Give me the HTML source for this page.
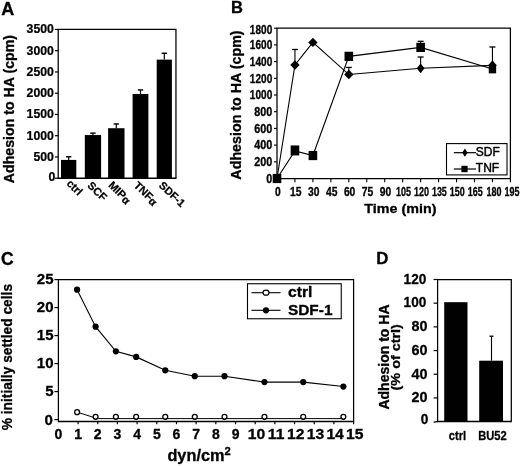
<!DOCTYPE html>
<html><head><meta charset="utf-8"><title>Figure</title>
<style>
html,body{margin:0;padding:0;background:#fff;}
body{width:520px;height:466px;overflow:hidden;font-family:"Liberation Sans",sans-serif;}
svg{display:block;opacity:0.999;will-change:transform;}
svg text{font-family:"Liberation Sans",sans-serif;fill:#000;}
</style></head><body>
<svg width="520" height="466" viewBox="0 0 520 466">
<rect width="520" height="466" fill="#fff"/>
<text transform="translate(1.20,14.70) scale(1.03,1)" font-size="17.5" font-weight="bold" text-anchor="start"  stroke="#000" stroke-width="0.3" stroke-linejoin="round">A</text>
<path d="M58.2,178.2 V29.35 H175.95 V178.2" fill="none" stroke="#000" stroke-width="1.25"/>
<line x1="57.70" y1="178.20" x2="176.45" y2="178.20" stroke="#000" stroke-width="1.5" />
<line x1="54.90" y1="178.20" x2="58.20" y2="178.20" stroke="#000" stroke-width="1.2" />
<text transform="translate(55.20,181.00) scale(0.98,1)" font-size="12.5" font-weight="bold" text-anchor="end"  stroke="#000" stroke-width="0.25" stroke-linejoin="round">0</text>
<line x1="54.90" y1="156.95" x2="58.20" y2="156.95" stroke="#000" stroke-width="1.2" />
<text transform="translate(53.80,160.75) scale(0.98,1)" font-size="12.5" font-weight="bold" text-anchor="end"  stroke="#000" stroke-width="0.25" stroke-linejoin="round">500</text>
<line x1="54.90" y1="135.70" x2="58.20" y2="135.70" stroke="#000" stroke-width="1.2" />
<text transform="translate(53.80,139.50) scale(0.98,1)" font-size="12.5" font-weight="bold" text-anchor="end"  stroke="#000" stroke-width="0.25" stroke-linejoin="round">1000</text>
<line x1="54.90" y1="114.45" x2="58.20" y2="114.45" stroke="#000" stroke-width="1.2" />
<text transform="translate(53.80,118.25) scale(0.98,1)" font-size="12.5" font-weight="bold" text-anchor="end"  stroke="#000" stroke-width="0.25" stroke-linejoin="round">1500</text>
<line x1="54.90" y1="93.20" x2="58.20" y2="93.20" stroke="#000" stroke-width="1.2" />
<text transform="translate(53.80,97.00) scale(0.98,1)" font-size="12.5" font-weight="bold" text-anchor="end"  stroke="#000" stroke-width="0.25" stroke-linejoin="round">2000</text>
<line x1="54.90" y1="71.95" x2="58.20" y2="71.95" stroke="#000" stroke-width="1.2" />
<text transform="translate(53.80,75.75) scale(0.98,1)" font-size="12.5" font-weight="bold" text-anchor="end"  stroke="#000" stroke-width="0.25" stroke-linejoin="round">2500</text>
<line x1="54.90" y1="50.70" x2="58.20" y2="50.70" stroke="#000" stroke-width="1.2" />
<text transform="translate(53.80,54.50) scale(0.98,1)" font-size="12.5" font-weight="bold" text-anchor="end"  stroke="#000" stroke-width="0.25" stroke-linejoin="round">3000</text>
<line x1="54.90" y1="29.45" x2="58.20" y2="29.45" stroke="#000" stroke-width="1.2" />
<text transform="translate(53.80,33.25) scale(0.98,1)" font-size="12.5" font-weight="bold" text-anchor="end"  stroke="#000" stroke-width="0.25" stroke-linejoin="round">3500</text>
<rect x="61.00" y="159.92" width="15.30" height="18.28" fill="#000"/>
<line x1="68.65" y1="159.92" x2="68.65" y2="156.74" stroke="#000" stroke-width="1.2" />
<line x1="65.95" y1="156.74" x2="71.35" y2="156.74" stroke="#000" stroke-width="1.4" />
<text transform="translate(65.90,184.30) rotate(44)" font-size="11" font-weight="bold" text-anchor="start"  stroke="#000" stroke-width="0.25" stroke-linejoin="round">ctrl</text>
<rect x="84.80" y="135.06" width="16.30" height="43.14" fill="#000"/>
<line x1="92.95" y1="135.06" x2="92.95" y2="133.15" stroke="#000" stroke-width="1.2" />
<line x1="90.25" y1="133.15" x2="95.65" y2="133.15" stroke="#000" stroke-width="1.4" />
<text transform="translate(86.70,186.30) rotate(44)" font-size="11" font-weight="bold" text-anchor="start"  stroke="#000" stroke-width="0.25" stroke-linejoin="round">SCF</text>
<rect x="108.10" y="128.22" width="16.40" height="49.98" fill="#000"/>
<line x1="116.30" y1="128.22" x2="116.30" y2="123.97" stroke="#000" stroke-width="1.2" />
<line x1="113.60" y1="123.97" x2="119.00" y2="123.97" stroke="#000" stroke-width="1.4" />
<text transform="translate(107.70,186.00) rotate(44)" font-size="11" font-weight="bold" text-anchor="start"  stroke="#000" stroke-width="0.25" stroke-linejoin="round">MIP<tspan font-size="11" dy="1.2">&#945;</tspan></text>
<rect x="132.60" y="93.96" width="15.80" height="84.23" fill="#000"/>
<line x1="140.50" y1="93.96" x2="140.50" y2="89.93" stroke="#000" stroke-width="1.2" />
<line x1="137.80" y1="89.93" x2="143.20" y2="89.93" stroke="#000" stroke-width="1.4" />
<text transform="translate(133.10,186.20) rotate(44)" font-size="11" font-weight="bold" text-anchor="start"  stroke="#000" stroke-width="0.25" stroke-linejoin="round">TNF<tspan font-size="11" dy="1.2">&#945;</tspan></text>
<rect x="156.70" y="59.62" width="15.20" height="118.58" fill="#000"/>
<line x1="164.30" y1="59.62" x2="164.30" y2="53.25" stroke="#000" stroke-width="1.2" />
<line x1="161.60" y1="53.25" x2="167.00" y2="53.25" stroke="#000" stroke-width="1.4" />
<text transform="translate(158.20,186.30) rotate(43)" font-size="10.8" font-weight="bold" text-anchor="start"  stroke="#000" stroke-width="0.25" stroke-linejoin="round">SDF-1</text>
<text transform="translate(13.90,109.10) rotate(-90) scale(0.978,1)" font-size="14.5" font-weight="bold" text-anchor="middle"  stroke="#000" stroke-width="0.3" stroke-linejoin="round">Adhesion to HA (cpm)</text>
<text transform="translate(231.00,13.30)" font-size="16.5" font-weight="bold" text-anchor="start"  stroke="#000" stroke-width="0.3" stroke-linejoin="round">B</text>
<path d="M277.0,178.5 V28.1 H510.4 V178.5 Z" fill="none" stroke="#000" stroke-width="1.25"/>
<line x1="274.00" y1="178.50" x2="277.00" y2="178.50" stroke="#000" stroke-width="1.1" />
<text transform="translate(272.30,182.70) scale(0.9,1)" font-size="12" font-weight="bold" text-anchor="end"  stroke="#000" stroke-width="0.3" stroke-linejoin="round">0</text>
<line x1="274.00" y1="161.80" x2="277.00" y2="161.80" stroke="#000" stroke-width="1.1" />
<text transform="translate(272.30,166.00) scale(0.9,1)" font-size="12" font-weight="bold" text-anchor="end"  stroke="#000" stroke-width="0.3" stroke-linejoin="round">200</text>
<line x1="274.00" y1="145.10" x2="277.00" y2="145.10" stroke="#000" stroke-width="1.1" />
<text transform="translate(272.30,149.30) scale(0.9,1)" font-size="12" font-weight="bold" text-anchor="end"  stroke="#000" stroke-width="0.3" stroke-linejoin="round">400</text>
<line x1="274.00" y1="128.40" x2="277.00" y2="128.40" stroke="#000" stroke-width="1.1" />
<text transform="translate(272.30,132.60) scale(0.9,1)" font-size="12" font-weight="bold" text-anchor="end"  stroke="#000" stroke-width="0.3" stroke-linejoin="round">600</text>
<line x1="274.00" y1="111.70" x2="277.00" y2="111.70" stroke="#000" stroke-width="1.1" />
<text transform="translate(272.30,115.90) scale(0.9,1)" font-size="12" font-weight="bold" text-anchor="end"  stroke="#000" stroke-width="0.3" stroke-linejoin="round">800</text>
<line x1="274.00" y1="95.00" x2="277.00" y2="95.00" stroke="#000" stroke-width="1.1" />
<text transform="translate(272.30,99.20) scale(0.84,1)" font-size="12" font-weight="bold" text-anchor="end"  stroke="#000" stroke-width="0.3" stroke-linejoin="round">1000</text>
<line x1="274.00" y1="78.30" x2="277.00" y2="78.30" stroke="#000" stroke-width="1.1" />
<text transform="translate(272.30,82.50) scale(0.84,1)" font-size="12" font-weight="bold" text-anchor="end"  stroke="#000" stroke-width="0.3" stroke-linejoin="round">1200</text>
<line x1="274.00" y1="61.60" x2="277.00" y2="61.60" stroke="#000" stroke-width="1.1" />
<text transform="translate(272.30,65.80) scale(0.84,1)" font-size="12" font-weight="bold" text-anchor="end"  stroke="#000" stroke-width="0.3" stroke-linejoin="round">1400</text>
<line x1="274.00" y1="44.90" x2="277.00" y2="44.90" stroke="#000" stroke-width="1.1" />
<text transform="translate(272.30,49.10) scale(0.84,1)" font-size="12" font-weight="bold" text-anchor="end"  stroke="#000" stroke-width="0.3" stroke-linejoin="round">1600</text>
<line x1="274.00" y1="28.20" x2="277.00" y2="28.20" stroke="#000" stroke-width="1.1" />
<text transform="translate(272.30,33.90) scale(0.84,1)" font-size="12" font-weight="bold" text-anchor="end"  stroke="#000" stroke-width="0.3" stroke-linejoin="round">1800</text>
<line x1="277.00" y1="178.50" x2="277.00" y2="182.30" stroke="#000" stroke-width="1.1" />
<text transform="translate(277.80,195.60) scale(0.86,1)" font-size="12" font-weight="bold" text-anchor="middle"  stroke="#000" stroke-width="0.3" stroke-linejoin="round">0</text>
<line x1="294.95" y1="178.50" x2="294.95" y2="182.30" stroke="#000" stroke-width="1.1" />
<text transform="translate(295.75,195.60) scale(0.86,1)" font-size="12" font-weight="bold" text-anchor="middle"  stroke="#000" stroke-width="0.3" stroke-linejoin="round">15</text>
<line x1="312.91" y1="178.50" x2="312.91" y2="182.30" stroke="#000" stroke-width="1.1" />
<text transform="translate(313.71,195.60) scale(0.86,1)" font-size="12" font-weight="bold" text-anchor="middle"  stroke="#000" stroke-width="0.3" stroke-linejoin="round">30</text>
<line x1="330.86" y1="178.50" x2="330.86" y2="182.30" stroke="#000" stroke-width="1.1" />
<text transform="translate(331.66,195.60) scale(0.86,1)" font-size="12" font-weight="bold" text-anchor="middle"  stroke="#000" stroke-width="0.3" stroke-linejoin="round">45</text>
<line x1="348.82" y1="178.50" x2="348.82" y2="182.30" stroke="#000" stroke-width="1.1" />
<text transform="translate(349.62,195.60) scale(0.86,1)" font-size="12" font-weight="bold" text-anchor="middle"  stroke="#000" stroke-width="0.3" stroke-linejoin="round">60</text>
<line x1="366.77" y1="178.50" x2="366.77" y2="182.30" stroke="#000" stroke-width="1.1" />
<text transform="translate(367.57,195.60) scale(0.86,1)" font-size="12" font-weight="bold" text-anchor="middle"  stroke="#000" stroke-width="0.3" stroke-linejoin="round">75</text>
<line x1="384.72" y1="178.50" x2="384.72" y2="182.30" stroke="#000" stroke-width="1.1" />
<text transform="translate(385.52,195.60) scale(0.86,1)" font-size="12" font-weight="bold" text-anchor="middle"  stroke="#000" stroke-width="0.3" stroke-linejoin="round">90</text>
<line x1="402.68" y1="178.50" x2="402.68" y2="182.30" stroke="#000" stroke-width="1.1" />
<text transform="translate(403.48,195.60) scale(0.75,1)" font-size="12" font-weight="bold" text-anchor="middle"  stroke="#000" stroke-width="0.3" stroke-linejoin="round">105</text>
<line x1="420.63" y1="178.50" x2="420.63" y2="182.30" stroke="#000" stroke-width="1.1" />
<text transform="translate(421.43,195.60) scale(0.75,1)" font-size="12" font-weight="bold" text-anchor="middle"  stroke="#000" stroke-width="0.3" stroke-linejoin="round">120</text>
<line x1="438.58" y1="178.50" x2="438.58" y2="182.30" stroke="#000" stroke-width="1.1" />
<text transform="translate(439.38,195.60) scale(0.75,1)" font-size="12" font-weight="bold" text-anchor="middle"  stroke="#000" stroke-width="0.3" stroke-linejoin="round">135</text>
<line x1="456.54" y1="178.50" x2="456.54" y2="182.30" stroke="#000" stroke-width="1.1" />
<text transform="translate(457.34,195.60) scale(0.75,1)" font-size="12" font-weight="bold" text-anchor="middle"  stroke="#000" stroke-width="0.3" stroke-linejoin="round">150</text>
<line x1="474.49" y1="178.50" x2="474.49" y2="182.30" stroke="#000" stroke-width="1.1" />
<text transform="translate(475.29,195.60) scale(0.75,1)" font-size="12" font-weight="bold" text-anchor="middle"  stroke="#000" stroke-width="0.3" stroke-linejoin="round">165</text>
<line x1="492.45" y1="178.50" x2="492.45" y2="182.30" stroke="#000" stroke-width="1.1" />
<text transform="translate(494.05,195.60) scale(0.75,1)" font-size="12" font-weight="bold" text-anchor="middle"  stroke="#000" stroke-width="0.3" stroke-linejoin="round">180</text>
<line x1="510.40" y1="178.50" x2="510.40" y2="182.30" stroke="#000" stroke-width="1.1" />
<text transform="translate(512.00,195.60) scale(0.75,1)" font-size="12" font-weight="bold" text-anchor="middle"  stroke="#000" stroke-width="0.3" stroke-linejoin="round">195</text>
<text transform="translate(400.40,212.60) scale(1.06,1)" font-size="13.5" font-weight="bold" text-anchor="middle"  stroke="#000" stroke-width="0.3" stroke-linejoin="round">Time (min)</text>
<text transform="translate(240.50,105.00) rotate(-90) scale(0.985,1)" font-size="14.5" font-weight="bold" text-anchor="middle"  stroke="#000" stroke-width="0.3" stroke-linejoin="round">Adhesion to HA (cpm)</text>
<polyline fill="none" stroke="#000" stroke-width="1.1" points="277.00,178.50 294.95,64.94 312.91,42.40 348.82,74.54 420.63,68.28 492.45,65.36"/>
<polyline fill="none" stroke="#000" stroke-width="1.1" points="277.00,178.50 294.95,150.94 312.91,155.54 348.82,56.34 420.63,47.41 492.45,68.95"/>
<line x1="294.95" y1="64.94" x2="294.95" y2="49.49" stroke="#000" stroke-width="1.1" />
<line x1="291.95" y1="49.49" x2="297.95" y2="49.49" stroke="#000" stroke-width="1.3" />
<line x1="348.82" y1="74.54" x2="348.82" y2="67.44" stroke="#000" stroke-width="1.1" />
<line x1="345.82" y1="67.44" x2="351.82" y2="67.44" stroke="#000" stroke-width="1.3" />
<line x1="420.63" y1="68.28" x2="420.63" y2="57.01" stroke="#000" stroke-width="1.1" />
<line x1="417.63" y1="57.01" x2="423.63" y2="57.01" stroke="#000" stroke-width="1.3" />
<line x1="492.45" y1="65.36" x2="492.45" y2="46.99" stroke="#000" stroke-width="1.1" />
<line x1="489.45" y1="46.99" x2="495.45" y2="46.99" stroke="#000" stroke-width="1.3" />
<line x1="420.63" y1="47.41" x2="420.63" y2="41.31" stroke="#000" stroke-width="1.1" />
<line x1="417.63" y1="41.31" x2="423.63" y2="41.31" stroke="#000" stroke-width="1.3" />
<path d="M294.95,60.24 L299.65,64.94 L294.95,69.64 L290.25,64.94 Z" fill="#000"/>
<path d="M312.91,37.70 L317.61,42.40 L312.91,47.10 L308.21,42.40 Z" fill="#000"/>
<path d="M348.82,69.84 L353.52,74.54 L348.82,79.24 L344.12,74.54 Z" fill="#000"/>
<path d="M420.63,63.38 L424.53,68.28 L420.63,73.18 L416.73,68.28 Z" fill="#000"/>
<path d="M492.45,60.36 L496.65,65.36 L492.45,70.36 L488.25,65.36 Z" fill="#000"/>
<rect x="272.70" y="173.90" width="8.6" height="9.2" fill="#000"/>
<rect x="290.65" y="145.44" width="8.6" height="10.0" fill="#000"/>
<rect x="308.61" y="150.94" width="8.6" height="9.2" fill="#000"/>
<rect x="344.52" y="51.74" width="8.6" height="9.2" fill="#000"/>
<rect x="416.33" y="42.80" width="8.6" height="9.2" fill="#000"/>
<rect x="488.75" y="64.55" width="7.4" height="8.8" fill="#000"/>
<rect x="446.5" y="143.6" width="60.5" height="31.3" fill="#fff" stroke="#000" stroke-width="1.1"/>
<line x1="453.80" y1="152.70" x2="476.00" y2="152.70" stroke="#000" stroke-width="1.2" />
<path d="M464.90,148.60 L467.60,152.70 L464.90,156.80 L462.20,152.70 Z" fill="#000"/>
<line x1="453.80" y1="169.00" x2="476.00" y2="169.00" stroke="#000" stroke-width="1.2" />
<rect x="461.40" y="165.80" width="6.2" height="6.4" fill="#000"/>
<text transform="translate(475.80,156.30)" font-size="12" font-weight="normal" text-anchor="start"  stroke="#000" stroke-width="0.45" stroke-linejoin="round">SDF</text>
<text transform="translate(475.80,171.90)" font-size="12" font-weight="normal" text-anchor="start"  stroke="#000" stroke-width="0.45" stroke-linejoin="round">TNF</text>
<text transform="translate(0.90,265.20)" font-size="17.5" font-weight="bold" text-anchor="start"  stroke="#000" stroke-width="0.3" stroke-linejoin="round">C</text>
<path d="M58.4,421.4 V279.5 H353.6 V421.4" fill="none" stroke="#000" stroke-width="1.25"/>
<line x1="57.90" y1="421.40" x2="354.10" y2="421.40" stroke="#000" stroke-width="1.5" />
<line x1="54.40" y1="419.60" x2="58.40" y2="419.60" stroke="#000" stroke-width="1.2" />
<text transform="translate(52.80,425.00)" font-size="15" font-weight="bold" text-anchor="end"  stroke="#000" stroke-width="0.3" stroke-linejoin="round">0</text>
<line x1="54.40" y1="391.60" x2="58.40" y2="391.60" stroke="#000" stroke-width="1.2" />
<text transform="translate(53.50,396.40)" font-size="15" font-weight="bold" text-anchor="end"  stroke="#000" stroke-width="0.3" stroke-linejoin="round">5</text>
<line x1="54.40" y1="363.60" x2="58.40" y2="363.60" stroke="#000" stroke-width="1.2" />
<text transform="translate(53.50,368.40)" font-size="15" font-weight="bold" text-anchor="end"  stroke="#000" stroke-width="0.3" stroke-linejoin="round">10</text>
<line x1="54.40" y1="335.60" x2="58.40" y2="335.60" stroke="#000" stroke-width="1.2" />
<text transform="translate(53.50,340.40)" font-size="15" font-weight="bold" text-anchor="end"  stroke="#000" stroke-width="0.3" stroke-linejoin="round">15</text>
<line x1="54.40" y1="307.60" x2="58.40" y2="307.60" stroke="#000" stroke-width="1.2" />
<text transform="translate(53.50,312.40)" font-size="15" font-weight="bold" text-anchor="end"  stroke="#000" stroke-width="0.3" stroke-linejoin="round">20</text>
<line x1="54.40" y1="279.60" x2="58.40" y2="279.60" stroke="#000" stroke-width="1.2" />
<text transform="translate(53.50,284.40)" font-size="15" font-weight="bold" text-anchor="end"  stroke="#000" stroke-width="0.3" stroke-linejoin="round">25</text>
<text transform="translate(58.40,438.70)" font-size="14" font-weight="bold" text-anchor="middle"  stroke="#000" stroke-width="0.3" stroke-linejoin="round">0</text>
<line x1="78.08" y1="421.40" x2="78.08" y2="424.20" stroke="#000" stroke-width="1.2" />
<text transform="translate(78.08,438.70)" font-size="14" font-weight="bold" text-anchor="middle"  stroke="#000" stroke-width="0.3" stroke-linejoin="round">1</text>
<line x1="97.76" y1="421.40" x2="97.76" y2="424.20" stroke="#000" stroke-width="1.2" />
<text transform="translate(97.76,438.70)" font-size="14" font-weight="bold" text-anchor="middle"  stroke="#000" stroke-width="0.3" stroke-linejoin="round">2</text>
<line x1="117.44" y1="421.40" x2="117.44" y2="424.20" stroke="#000" stroke-width="1.2" />
<text transform="translate(117.44,438.70)" font-size="14" font-weight="bold" text-anchor="middle"  stroke="#000" stroke-width="0.3" stroke-linejoin="round">3</text>
<line x1="137.12" y1="421.40" x2="137.12" y2="424.20" stroke="#000" stroke-width="1.2" />
<text transform="translate(137.12,438.70)" font-size="14" font-weight="bold" text-anchor="middle"  stroke="#000" stroke-width="0.3" stroke-linejoin="round">4</text>
<line x1="156.80" y1="421.40" x2="156.80" y2="424.20" stroke="#000" stroke-width="1.2" />
<text transform="translate(156.80,438.70)" font-size="14" font-weight="bold" text-anchor="middle"  stroke="#000" stroke-width="0.3" stroke-linejoin="round">5</text>
<line x1="176.48" y1="421.40" x2="176.48" y2="424.20" stroke="#000" stroke-width="1.2" />
<text transform="translate(176.48,438.70)" font-size="14" font-weight="bold" text-anchor="middle"  stroke="#000" stroke-width="0.3" stroke-linejoin="round">6</text>
<line x1="196.16" y1="421.40" x2="196.16" y2="424.20" stroke="#000" stroke-width="1.2" />
<text transform="translate(196.16,438.70)" font-size="14" font-weight="bold" text-anchor="middle"  stroke="#000" stroke-width="0.3" stroke-linejoin="round">7</text>
<line x1="215.84" y1="421.40" x2="215.84" y2="424.20" stroke="#000" stroke-width="1.2" />
<text transform="translate(215.84,438.70)" font-size="14" font-weight="bold" text-anchor="middle"  stroke="#000" stroke-width="0.3" stroke-linejoin="round">8</text>
<line x1="235.52" y1="421.40" x2="235.52" y2="424.20" stroke="#000" stroke-width="1.2" />
<text transform="translate(235.52,438.70)" font-size="14" font-weight="bold" text-anchor="middle"  stroke="#000" stroke-width="0.3" stroke-linejoin="round">9</text>
<line x1="255.20" y1="421.40" x2="255.20" y2="424.20" stroke="#000" stroke-width="1.2" />
<text transform="translate(256.40,438.70) scale(1.12,1)" font-size="14" font-weight="bold" text-anchor="middle"  stroke="#000" stroke-width="0.3" stroke-linejoin="round">10</text>
<line x1="274.88" y1="421.40" x2="274.88" y2="424.20" stroke="#000" stroke-width="1.2" />
<text transform="translate(276.08,438.70) scale(1.12,1)" font-size="14" font-weight="bold" text-anchor="middle"  stroke="#000" stroke-width="0.3" stroke-linejoin="round">11</text>
<line x1="294.56" y1="421.40" x2="294.56" y2="424.20" stroke="#000" stroke-width="1.2" />
<text transform="translate(295.76,438.70) scale(1.12,1)" font-size="14" font-weight="bold" text-anchor="middle"  stroke="#000" stroke-width="0.3" stroke-linejoin="round">12</text>
<line x1="314.24" y1="421.40" x2="314.24" y2="424.20" stroke="#000" stroke-width="1.2" />
<text transform="translate(315.44,438.70) scale(1.12,1)" font-size="14" font-weight="bold" text-anchor="middle"  stroke="#000" stroke-width="0.3" stroke-linejoin="round">13</text>
<line x1="333.92" y1="421.40" x2="333.92" y2="424.20" stroke="#000" stroke-width="1.2" />
<text transform="translate(335.12,438.70) scale(1.12,1)" font-size="14" font-weight="bold" text-anchor="middle"  stroke="#000" stroke-width="0.3" stroke-linejoin="round">14</text>
<line x1="353.60" y1="421.40" x2="353.60" y2="424.20" stroke="#000" stroke-width="1.2" />
<text transform="translate(354.80,438.70) scale(1.12,1)" font-size="14" font-weight="bold" text-anchor="middle"  stroke="#000" stroke-width="0.3" stroke-linejoin="round">15</text>
<polyline fill="none" stroke="#000" stroke-width="1.1" points="77.10,289.68 95.60,326.64 115.87,351.28 136.14,356.88 165.26,370.32 194.78,376.20 224.50,376.20 264.45,382.08 303.22,382.08 343.37,386.56"/>
<polyline fill="none" stroke="#000" stroke-width="1.0" points="77.10,412.15 95.60,418.0 98.60,418.6 343.37,418.6"/>
<circle cx="77.10" cy="289.68" r="3.1" fill="#000"/>
<circle cx="95.60" cy="326.64" r="3.1" fill="#000"/>
<circle cx="115.87" cy="351.28" r="3.1" fill="#000"/>
<circle cx="136.14" cy="356.88" r="3.1" fill="#000"/>
<circle cx="165.26" cy="370.32" r="3.1" fill="#000"/>
<circle cx="194.78" cy="376.20" r="3.1" fill="#000"/>
<circle cx="224.50" cy="376.20" r="3.1" fill="#000"/>
<circle cx="264.45" cy="382.08" r="3.1" fill="#000"/>
<circle cx="303.22" cy="382.08" r="3.1" fill="#000"/>
<circle cx="343.37" cy="386.56" r="3.1" fill="#000"/>
<circle cx="77.10" cy="412.15" r="2.45" fill="#fff" stroke="#000" stroke-width="1.3"/>
<circle cx="95.60" cy="416.80" r="2.45" fill="#fff" stroke="#000" stroke-width="1.3"/>
<circle cx="115.87" cy="416.80" r="2.45" fill="#fff" stroke="#000" stroke-width="1.3"/>
<circle cx="136.14" cy="416.80" r="2.45" fill="#fff" stroke="#000" stroke-width="1.3"/>
<circle cx="165.26" cy="416.80" r="2.45" fill="#fff" stroke="#000" stroke-width="1.3"/>
<circle cx="194.78" cy="416.80" r="2.45" fill="#fff" stroke="#000" stroke-width="1.3"/>
<circle cx="224.50" cy="416.80" r="2.45" fill="#fff" stroke="#000" stroke-width="1.3"/>
<circle cx="264.45" cy="416.80" r="2.45" fill="#fff" stroke="#000" stroke-width="1.3"/>
<circle cx="303.22" cy="416.80" r="2.45" fill="#fff" stroke="#000" stroke-width="1.3"/>
<circle cx="343.37" cy="416.80" r="2.45" fill="#fff" stroke="#000" stroke-width="1.3"/>
<rect x="247.5" y="283.75" width="93.75" height="35" fill="#fff" stroke="#000" stroke-width="1.1"/>
<line x1="251.50" y1="292.70" x2="280.50" y2="292.70" stroke="#000" stroke-width="1.1" />
<ellipse cx="266" cy="292.7" rx="3" ry="2.5" fill="#fff" stroke="#000" stroke-width="1.2"/>
<line x1="251.50" y1="310.30" x2="280.50" y2="310.30" stroke="#000" stroke-width="1.1" />
<circle cx="266" cy="310.3" r="3.1" fill="#000"/>
<text transform="translate(288.00,297.40) scale(1.12,1)" font-size="14" font-weight="bold" text-anchor="start"  stroke="#000" stroke-width="0.3" stroke-linejoin="round">ctrl</text>
<text transform="translate(288.00,315.20) scale(1.1,1)" font-size="14" font-weight="bold" text-anchor="start"  stroke="#000" stroke-width="0.3" stroke-linejoin="round">SDF-1</text>
<text transform="translate(167.4,460.9) scale(1.02,1)" font-size="16" font-weight="bold" text-anchor="start" stroke="#000" stroke-width="0.3">dyn/cm<tspan font-size="11" dy="-6">2</tspan></text>
<text transform="translate(12.30,357.10) rotate(-90)" font-size="13.8" font-weight="bold" text-anchor="middle"  stroke="#000" stroke-width="0.3" stroke-linejoin="round">% initially settled cells</text>
<text transform="translate(376.20,264.30)" font-size="16.8" font-weight="bold" text-anchor="start"  stroke="#000" stroke-width="0.3" stroke-linejoin="round">D</text>
<path d="M437.6,421.6 V279.5 H511.3 V421.6" fill="none" stroke="#000" stroke-width="1.25"/>
<line x1="437.10" y1="421.60" x2="511.80" y2="421.60" stroke="#000" stroke-width="1.5" />
<line x1="433.60" y1="422.10" x2="437.60" y2="421.60" stroke="#000" stroke-width="1.2" />
<text transform="translate(428.40,423.80) scale(0.89,1)" font-size="15.3" font-weight="bold" text-anchor="end"  stroke="#000" stroke-width="0.3" stroke-linejoin="round">0</text>
<line x1="433.60" y1="397.92" x2="437.60" y2="397.92" stroke="#000" stroke-width="1.2" />
<text transform="translate(427.60,402.22) scale(0.94,1)" font-size="15.3" font-weight="bold" text-anchor="end"  stroke="#000" stroke-width="0.3" stroke-linejoin="round">20</text>
<line x1="433.60" y1="374.23" x2="437.60" y2="374.23" stroke="#000" stroke-width="1.2" />
<text transform="translate(427.60,378.53) scale(0.94,1)" font-size="15.3" font-weight="bold" text-anchor="end"  stroke="#000" stroke-width="0.3" stroke-linejoin="round">40</text>
<line x1="433.60" y1="350.55" x2="437.60" y2="350.55" stroke="#000" stroke-width="1.2" />
<text transform="translate(427.60,354.85) scale(0.94,1)" font-size="15.3" font-weight="bold" text-anchor="end"  stroke="#000" stroke-width="0.3" stroke-linejoin="round">60</text>
<line x1="433.60" y1="326.87" x2="437.60" y2="326.87" stroke="#000" stroke-width="1.2" />
<text transform="translate(427.60,331.17) scale(0.94,1)" font-size="15.3" font-weight="bold" text-anchor="end"  stroke="#000" stroke-width="0.3" stroke-linejoin="round">80</text>
<line x1="433.60" y1="303.18" x2="437.60" y2="303.18" stroke="#000" stroke-width="1.2" />
<text transform="translate(426.30,307.48) scale(0.89,1)" font-size="15.3" font-weight="bold" text-anchor="end"  stroke="#000" stroke-width="0.3" stroke-linejoin="round">100</text>
<line x1="433.60" y1="279.50" x2="437.60" y2="279.50" stroke="#000" stroke-width="1.2" />
<text transform="translate(426.30,283.80) scale(0.89,1)" font-size="15.3" font-weight="bold" text-anchor="end"  stroke="#000" stroke-width="0.3" stroke-linejoin="round">120</text>
<rect x="444.2" y="302.2" width="23.3" height="119.40" fill="#000"/>
<rect x="479.2" y="360.7" width="23.8" height="60.90" fill="#000"/>
<line x1="491.50" y1="360.70" x2="491.50" y2="336.20" stroke="#000" stroke-width="1.1" />
<line x1="489.50" y1="336.20" x2="493.50" y2="336.20" stroke="#000" stroke-width="1.3" />
<text transform="translate(457.50,440.00) scale(0.93,1)" font-size="12" font-weight="bold" text-anchor="middle"  stroke="#000" stroke-width="0.3" stroke-linejoin="round">ctrl</text>
<text transform="translate(492.50,440.00) scale(0.93,1)" font-size="12" font-weight="bold" text-anchor="middle"  stroke="#000" stroke-width="0.3" stroke-linejoin="round">BU52</text>
<text transform="translate(388.70,357.00) rotate(-90) scale(0.968,1)" font-size="14.5" font-weight="bold" text-anchor="middle"  stroke="#000" stroke-width="0.3" stroke-linejoin="round">Adhesion to HA</text>
<text transform="translate(400.30,357.30) rotate(-90) scale(1.065,1)" font-size="13.5" font-weight="bold" text-anchor="middle"  stroke="#000" stroke-width="0.3" stroke-linejoin="round">(% of ctrl)</text>
</svg>
</body></html>
